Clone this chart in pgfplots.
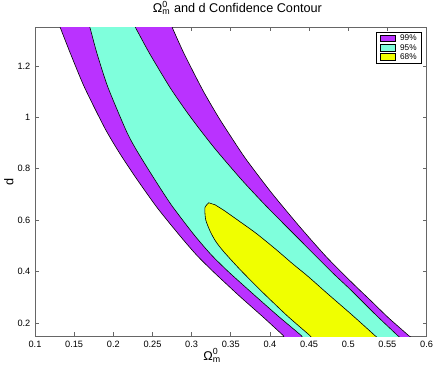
\documentclass[border=0pt]{standalone}
\usepackage{fontspec}
\setmainfont{Liberation Sans}
\usepackage{amsmath}
\usepackage{pgfplots}
\pgfplotsset{compat=1.18}

\definecolor{c99}{RGB}{186,50,255}
\definecolor{c95}{RGB}{127,255,220}
\definecolor{c68}{RGB}{240,255,0}

\newcommand{\Om}{Ω$^{\text{0}}_{\text{m}}$}

\begin{document}
\begin{tikzpicture}
\begin{axis}[
    scale only axis,
    width=293.6pt, height=231.5pt,
    xmin=0.1, xmax=0.6, ymin=0.15, ymax=1.35,
    xtick={0.1,0.15,0.2,0.25,0.3,0.35,0.4,0.45,0.5,0.55,0.6},
    ytick={0.2,0.4,0.6,0.8,1,1.2},
    tick align=inside,
    xtick pos=both, ytick pos=both,
    major tick length=3pt,
    axis line style={black!60, line width=0.6pt},
    tick style={black!60, line width=0.5pt},
    tick label style={font=\fontsize{6.9}{8}\selectfont},
    /pgf/number format/assume math mode=true,
    title={\Om{} and d Confidence Contour},
    title style={font=\fontsize{9.5}{11}\selectfont, at={(0.5,1)}, anchor=base, yshift=5pt, xshift=5pt},
    xlabel={\Om},
    xlabel style={font=\fontsize{9.5}{11}\selectfont, at={(0.5,0)}, anchor=base, yshift=-18pt, xshift=-14pt},
    ylabel={d},
    ylabel style={font=\fontsize{9.5}{11}\selectfont, at={(-0.0665,0.5)}, anchor=center},
    legend style={at={(1,1)}, anchor=north east, xshift=-3.4pt, yshift=-3.5pt,
        draw=black, line width=0.4pt, font=\fontsize{6.2}{7}\selectfont,
        inner xsep=3pt, inner ysep=1pt, row sep=0pt,
        nodes={text height=4.6pt, text depth=0.8pt, inner sep=0.8pt}},
    legend cell align=left,
    legend image code/.code={\draw[#1, draw=black, line width=0.4pt] (0pt,-2.6pt) rectangle (11.25pt,2.6pt); \path (13.5pt,0pt);},
]
% 99% region
\addplot[fill=c99, draw=black, line width=0.45pt, smooth, tension=0.4] coordinates {
(0.126,1.40) (0.132,1.351) (0.145,1.250) (0.163,1.118) (0.189,0.959) (0.207,0.866)
(0.228,0.769) (0.256,0.649) (0.285,0.540) (0.306,0.466) (0.325,0.408) (0.340,0.365)
(0.362,0.303) (0.392,0.222) (0.417,0.152) (0.435,0.10)
(0.595,0.10) (0.577,0.152) (0.551,0.222) (0.530,0.284) (0.505,0.357) (0.472,0.458)
(0.438,0.575) (0.402,0.707) (0.370,0.835) (0.353,0.912) (0.334,1.002) (0.314,1.107)
(0.290,1.250) (0.275,1.351) (0.268,1.40)
} -- cycle;
% 95% region
\addplot[fill=c95, draw=black, line width=0.45pt, smooth, tension=0.4] coordinates {
(0.165,1.40) (0.170,1.351) (0.179,1.250) (0.193,1.118) (0.216,0.951) (0.228,0.881)
(0.249,0.777) (0.274,0.660) (0.303,0.544) (0.325,0.466) (0.347,0.400) (0.378,0.315)
(0.410,0.229) (0.440,0.152) (0.459,0.10)
(0.580,0.10) (0.563,0.152) (0.535,0.233) (0.503,0.330) (0.480,0.396) (0.438,0.524)
(0.395,0.656) (0.364,0.757) (0.331,0.874) (0.309,0.959) (0.292,1.029) (0.272,1.118)
(0.246,1.250) (0.228,1.351) (0.219,1.40)
} -- cycle;
% 68% region
\addplot[fill=c68, draw=black, line width=0.45pt, smooth, tension=0.4] coordinates {
(0.322,0.668) (0.317,0.649) (0.318,0.602) (0.324,0.555) (0.331,0.517) (0.341,0.478)
(0.362,0.408) (0.390,0.322) (0.422,0.229) (0.451,0.152) (0.470,0.10)
(0.552,0.10) (0.534,0.152) (0.506,0.229) (0.472,0.319) (0.449,0.381) (0.429,0.431)
(0.408,0.486) (0.383,0.548) (0.362,0.594) (0.342,0.637) (0.330,0.660)
} -- cycle;
\legend{99\%,95\%,68\%}
\coordinate (bbsw) at (rel axis cs:0,0);
\coordinate (bbne) at (rel axis cs:1,1);
\end{axis}
\pgfresetboundingbox
\useasboundingbox ([xshift=-26.25pt,yshift=-27.75pt]bbsw) rectangle ([xshift=7.1pt,yshift=20.5pt]bbne);
\end{tikzpicture}
\end{document}
